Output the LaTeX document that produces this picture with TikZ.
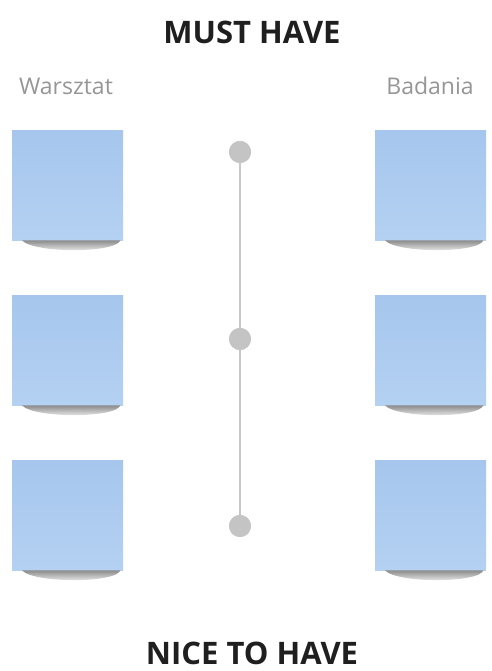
\documentclass[tikz,border=0pt]{standalone}
\usepackage{fontspec}
\setmainfont{Open Sans}
\definecolor{notetop}{RGB}{166,198,237}
\definecolor{notebot}{RGB}{180,209,242}
\definecolor{labgray}{RGB}{150,150,150}
\definecolor{dotgray}{RGB}{196,196,196}
\definecolor{linegray}{RGB}{200,200,200}
\tikzset{
  note/.style={minimum width=111pt,minimum height=110pt,inner sep=0pt,anchor=north west,
    top color=notetop,bottom color=notebot,draw=none},
  title/.style={font=\bfseries\fontsize{31}{34}\selectfont,text=black!88,inner sep=0pt},
  lab/.style={font=\fontsize{23}{26}\selectfont,text=labgray,inner sep=0pt},
  dot/.style={circle,fill=dotgray,minimum size=22pt,inner sep=0pt},
}
\newcommand{\noteshadow}[1]{%
  \shade[top color=black!45,bottom color=white,draw=none]
    ([xshift=10pt]#1.south west) -- ([xshift=-3pt]#1.south east)
    .. controls ([xshift=-8pt,yshift=-13pt]#1.south east) and ([xshift=22pt,yshift=-13pt]#1.south west) .. ([xshift=10pt]#1.south west) -- cycle;}
\begin{document}
\begin{tikzpicture}[x=1pt,y=1pt]
\useasboundingbox (0,0) rectangle (491,671);
\fill[white] (0,0) rectangle (491,671);
\node[title] (must) at (252,639) {MUST HAVE};
\node[title] (nice) at (252,18) {NICE TO HAVE};
\node[lab] (warsztat) at (66,585) {Warsztat};
\node[lab] (badania) at (430,585) {Badania};
% notes
\foreach \n/\x/\y in {l1/12/541,l2/12/376,l3/12/211,r1/375/541,r2/375/376,r3/375/211}{
  \node[note] (\n) at (\x,\y) {};
  \noteshadow{\n}
}
% timeline
\node[dot] (d1) at (240,519) {};
\node[dot] (d2) at (240,332) {};
\node[dot] (d3) at (240,145) {};
\draw[linegray,line width=1.3pt] (d1.center) -- (d2.center) -- (d3.center);
\node[dot] at (d1) {};
\node[dot] at (d2) {};
\node[dot] at (d3) {};
\end{tikzpicture}
\end{document}
